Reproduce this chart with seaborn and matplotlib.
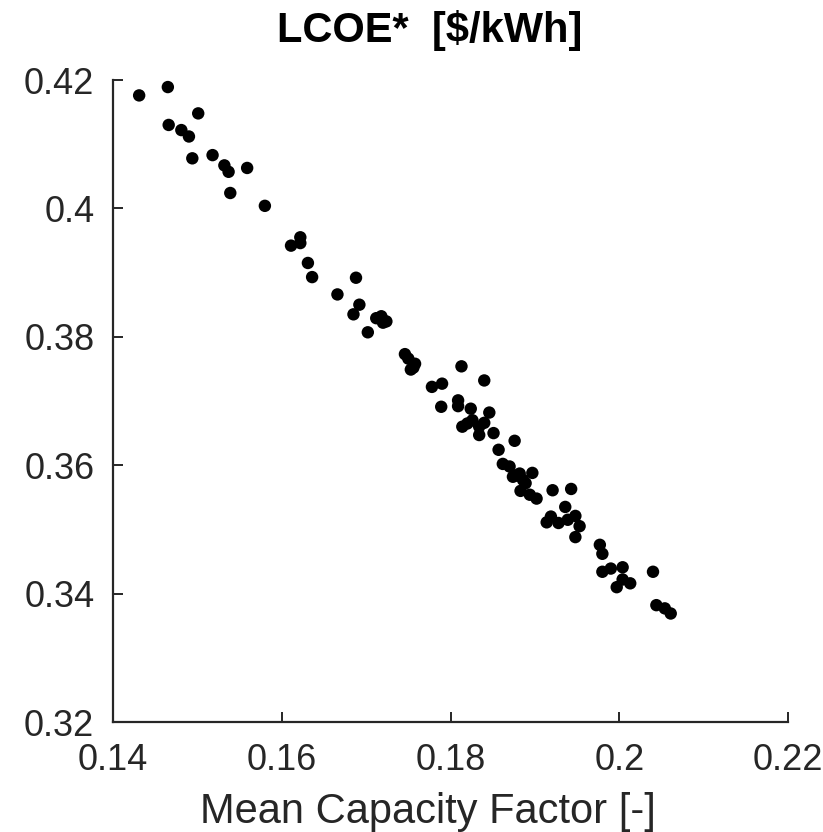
import matplotlib
matplotlib.use("Agg")
import matplotlib.pyplot as plt
import seaborn as sns
import pandas as pd

capacity_factor = [
    0.1431, 0.1465, 0.1466, 0.1481, 0.1490, 0.1501, 0.1494, 0.1518, 0.1532, 0.1537,
    0.1559, 0.1539, 0.1580, 0.1611, 0.1622, 0.1622, 0.1631, 0.1636, 0.1688, 0.1666,
    0.1692, 0.1685, 0.1712, 0.1718, 0.1724, 0.1720, 0.1702, 0.1746, 0.1750, 0.1758,
    0.1753, 0.1756, 0.1813, 0.1840, 0.1778, 0.1790, 0.1789, 0.1809, 0.1809, 0.1824,
    0.1846, 0.1814, 0.1826, 0.1834, 0.1840, 0.1820, 0.1834, 0.1851, 0.1876, 0.1857,
    0.1862, 0.1870, 0.1874, 0.1882, 0.1897, 0.1889, 0.1883, 0.1894, 0.1902, 0.1886,
    0.1878, 0.1921, 0.1943, 0.1936, 0.1948, 0.1919, 0.1914, 0.1928, 0.1939, 0.1953,
    0.1948, 0.1977, 0.1980, 0.1980, 0.1990, 0.2004, 0.2040, 0.2004, 0.2013, 0.1997,
    0.2044, 0.2054, 0.2061,
]
lcoe = [
    0.4176, 0.4189, 0.4130, 0.4122, 0.4112, 0.4148, 0.4078, 0.4083, 0.4067, 0.4057,
    0.4063, 0.4024, 0.4004, 0.3942, 0.3955, 0.3946, 0.3915, 0.3893, 0.3892, 0.3866,
    0.3850, 0.3835, 0.3829, 0.3832, 0.3824, 0.3822, 0.3807, 0.3773, 0.3766, 0.3758,
    0.3749, 0.3752, 0.3754, 0.3732, 0.3722, 0.3727, 0.3691, 0.3701, 0.3692, 0.3688,
    0.3682, 0.3660, 0.3670, 0.3660, 0.3666, 0.3665, 0.3647, 0.3650, 0.3638, 0.3624,
    0.3602, 0.3598, 0.3582, 0.3587, 0.3588, 0.3572, 0.3560, 0.3554, 0.3548, 0.3577,
    0.3584, 0.3561, 0.3563, 0.3535, 0.3521, 0.3520, 0.3511, 0.3510, 0.3515, 0.3505,
    0.3488, 0.3476, 0.3462, 0.3434, 0.3439, 0.3441, 0.3434, 0.3422, 0.3416, 0.3410,
    0.3382, 0.3377, 0.3369,
]
x_ticks = [0.14, 0.16, 0.18, 0.20, 0.22]
x_tick_labels = ["0.14", "0.16", "0.18", "0.2", "0.22"]
y_ticks = [0.32, 0.34, 0.36, 0.38, 0.40, 0.42]
y_tick_labels = ["0.32", "0.34", "0.36", "0.38", "0.4", "0.42"]
title_text = "LCOE*  [$/kWh]"
x_label_text = "Mean Capacity Factor [-]"

df = pd.DataFrame({"cf": capacity_factor, "lcoe": lcoe})

sns.set_style("ticks")
plt.rcParams["font.family"] = ["Liberation Sans", "DejaVu Sans"]

W, H = 823, 832
fig = plt.figure(figsize=(W / 100, H / 100), dpi=100)
ax = fig.add_axes([113 / W, 1 - 722 / H, (788 - 113) / W, (722 - 80) / H])

sns.scatterplot(data=df, x="cf", y="lcoe", ax=ax, color="black", s=80,
                linewidth=0, edgecolor="none")

ax.set_xlim(0.14, 0.22)
ax.set_ylim(0.32, 0.42)
ax.set_xticks(x_ticks)
ax.set_xticklabels(x_tick_labels)
ax.set_yticks(y_ticks)
ax.set_yticklabels(y_tick_labels)

dark = "#262626"
for side in ["top", "right"]:
    ax.spines[side].set_visible(False)
for side in ["left", "bottom"]:
    ax.spines[side].set_color(dark)
    ax.spines[side].set_linewidth(1.6)
ax.tick_params(direction="in", length=7, width=1.4, colors=dark, labelsize=26)
ax.tick_params(axis="x", pad=15)
ax.tick_params(axis="y", pad=13.5)

ax.set_xlabel("")
ax.set_ylabel("")
fig.text(428 / W, 1 - 823 / H, x_label_text, fontsize=30, color=dark,
         ha="center", va="baseline")
fig.text(430 / W, 1 - 42 / H, title_text, fontsize=30, fontweight="bold",
         color="black", ha="center", va="baseline")

fig.savefig("out.png", dpi=100)
